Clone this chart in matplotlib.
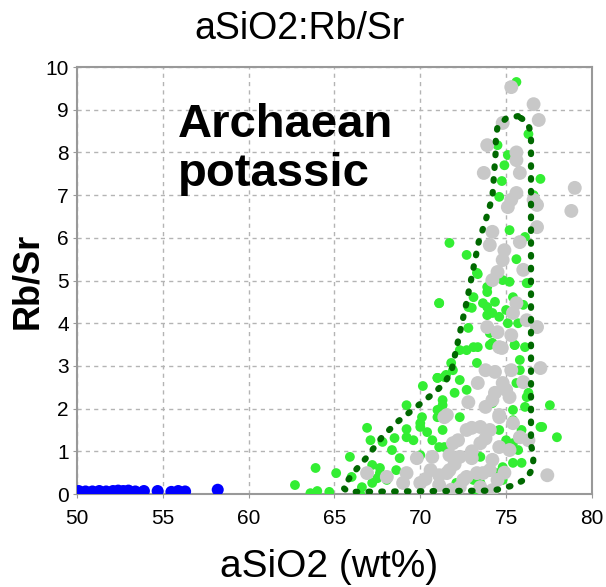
import matplotlib
matplotlib.use("Agg")
import matplotlib.pyplot as plt

# grey samples (SiO2, Rb/Sr)
gray_x = [75.3, 76.6, 76.9, 73.9, 75.6, 75.6, 73.7, 75.8, 79.0, 75.6, 75.3, 78.8, 76.6, 74.8,
          75.1, 76.8, 76.8, 74.2, 75.8, 74.05, 74.9, 74.8, 74.5, 76.0, 74.2, 75.6, 75.4, 73.9,
          76.8, 75.3, 74.5, 76.2, 74.6,
          74.75, 77.0, 75.3, 74.35, 76.0, 73.35, 75.0, 74.35, 72.8, 73.8, 71.55, 74.6, 73.0,
          74.05, 76.3, 72.2, 73.5, 74.6, 71.7, 73.0, 74.2, 77.4, 71.7, 73.65, 72.5, 71.1, 74.5,
          71.4, 72.7, 73.5, 71.9, 70.7, 69.8, 72.3, 70.6, 69.2, 71.55, 68.05, 66.9, 70.0, 69.0,
          71.1, 72.7, 73.3, 74.05, 75.2, 75.8, 75.4, 74.6, 74.2, 75.2, 73.5, 72.3, 74.2,
          73.0, 72.0, 73.8, 74.9, 70.3, 71.8, 73.8, 74.8]
gray_y = [9.53, 9.13, 8.76, 8.17, 8.0, 7.82, 7.52, 7.52, 7.17, 7.05, 6.89, 6.63, 6.89, 8.69,
          6.72, 6.77, 6.25, 6.14, 5.9, 5.83, 5.71, 5.48, 5.2, 5.25, 5.01, 4.47, 4.24, 3.91,
          3.91, 3.72, 3.79, 4.07, 3.44,
          3.42, 2.95, 2.9, 2.86, 2.62, 2.6, 2.44, 2.37, 2.15, 2.04, 1.85, 1.85, 1.55,
          1.5, 1.26, 1.26, 1.19, 1.1, 0.91, 0.84, 0.8, 0.44, 0.56, 0.49, 0.33, 0.44, 0.33,
          1.8, 1.5, 1.57, 1.19, 0.87, 0.84, 0.87, 0.56, 0.49, 0.49, 0.4, 0.49, 0.26, 0.26,
          0.21, 0.4, 0.49, 0.56, 1.03, 1.33, 1.66, 1.8, 2.2, 2.27, 0.16, 0.16, 0.09,
          1.0, 0.7, 1.3, 0.5, 0.35, 0.1, 2.9, 2.6]

# green samples
green_x = [75.6, 76.3, 74.5, 75.1, 74.9, 77.0, 74.75, 74.6, 76.6,
           71.7, 72.7, 75.2, 76.1, 75.6, 73.3, 74.8, 75.2, 76.2, 71.1, 73.1, 73.9, 73.0,
           73.9, 74.35, 73.9, 74.6, 75.1, 75.7, 72.8, 74.05, 73.35, 74.2, 75.5, 76.0,
           71.0, 70.15, 71.5, 71.3, 69.2, 70.1, 71.0, 66.9, 69.2, 70.0, 70.4, 67.1, 67.8,
           68.5, 68.35, 69.6, 70.7, 65.9, 68.8, 67.2, 67.65, 63.9, 65.1, 66.0, 67.5, 68.05,
           62.7, 63.6, 64.0, 64.7, 66.6, 66.5,
           72.3, 73.1, 74.05, 75.5, 71.8, 73.3, 75.8, 71.4, 72.3, 75.6, 76.3, 72.0, 77.55,
           76.1, 71.3, 72.3, 75.4, 77.0, 77.96, 75.9, 71.3, 71.4, 75.0, 75.7, 75.9, 74.8,
           73.1, 72.1, 74.2, 73.2, 74.8,
           71.1, 73.35, 72.8, 72.7, 73.9, 74.2, 71.0, 71.1, 70.0, 73.5, 68.6, 67.65, 68.05,
           67.2, 77.1, 76.3, 75.4, 75.0, 73.65, 71.9, 72.7, 74.2, 75.4, 75.8, 73.5, 74.5,
           75.4, 75.4, 74.6, 76.2, 76.1, 71.0, 70.0, 69.2]
green_y = [9.65, 8.43, 8.17, 7.94, 7.7, 7.38, 7.33, 6.96, 7.0,
           5.88, 5.6, 6.18, 6.02, 5.5, 5.18, 5.01, 4.97, 4.94, 4.47, 4.61, 4.73, 4.36,
           4.38, 4.5, 4.19, 4.15, 4.0, 4.0, 3.89, 3.77, 3.44, 3.54, 3.49, 4.43,
           2.72, 2.53, 2.79, 2.2, 2.08, 1.8, 1.8, 1.55, 1.52, 1.57, 1.45, 1.26, 1.22,
           1.31, 1.03, 1.26, 1.26, 0.87, 0.84, 0.68, 0.61, 0.61, 0.49, 0.4, 0.37, 0.4,
           0.21, 0.02, 0.07, 0.05, 0.16, 0.0,
           3.37, 3.44, 3.49, 3.49, 3.07, 3.07, 3.14, 2.74, 2.67, 2.6, 2.37, 2.37, 2.08,
           2.04, 2.08, 1.8, 1.73, 1.57, 1.33, 1.5, 1.5, 1.1, 1.26, 1.03, 0.73, 0.63,
           0.33, 0.26, 0.05, 0.0, 0.33,
           4.47, 5.15, 4.38, 3.37, 4.85, 4.24, 2.72, 1.1, 0.91, 0.87, 0.56, 0.49, 0.33,
           0.26, 1.57, 4.94, 4.61, 4.31, 4.47, 2.9, 2.44, 2.13, 1.97, 2.9, 0.26, 0.49,
           0.73, 1.19, 1.5, 2.27, 3.44, 1.97, 1.66, 1.33]

# blue samples
blue_x = [50.1, 50.5, 50.9, 51.3, 51.7, 52.1, 52.4, 52.7, 53.0, 53.4, 53.9, 54.7, 55.5, 55.9, 56.3, 58.2]
blue_y = [0.07, 0.06, 0.06, 0.07, 0.06, 0.07, 0.08, 0.07, 0.08, 0.06, 0.07, 0.07, 0.05, 0.07, 0.06, 0.1]

# "Archaean potassic" field outline
field_x = [75.7, 75.0, 74.5, 74.4, 74.4, 74.2, 73.8, 73.4, 73.0, 72.7, 72.4, 72.1, 71.8, 71.4,
           70.9, 69.8, 68.7, 67.8, 66.9, 66.0, 65.5, 65.8, 74.2, 74.9, 75.6, 76.2, 76.55, 76.6,
           76.45, 76.45, 76.45, 76.25, 75.7]
field_y = [8.85, 8.8, 8.6, 8.35, 8.05, 6.95, 6.4, 5.9, 5.1, 4.5, 3.95, 3.4, 2.85, 2.6,
           2.4, 2.05, 1.7, 1.35, 0.87, 0.45, 0.15, 0.05, 0.08, 0.14, 0.23, 0.37, 0.6, 0.9,
           1.15, 5.0, 8.45, 8.7, 8.85]

plt.rcParams['font.family'] = ['Liberation Sans', 'DejaVu Sans']

fig = plt.figure(figsize=(6.06, 5.87), dpi=100)
ax = fig.add_axes([0.127, 0.1584, 0.8498, 0.7274])

ax.scatter(blue_x, blue_y, s=75, color='#0000ff', edgecolors='none', zorder=3)
ax.scatter(green_x, green_y, s=50, color='#33ee33', edgecolors='none', zorder=3)
ax.scatter(gray_x, gray_y, s=100, color='#c8c8c8', edgecolors='none', zorder=4)
ax.plot(field_x, field_y, color='#006800', lw=4.5, linestyle=(0, (0.25, 1.8)),
        dash_capstyle='round', zorder=5)

ax.set_xlim(50, 80)
ax.set_ylim(0, 10)
ax.set_xticks(range(50, 81, 5))
ax.set_yticks(range(0, 11))
ax.grid(True, color='#b4b4b4', linestyle=(0, (3, 3)), lw=1)
ax.set_axisbelow(True)
for sp in ax.spines.values():
    sp.set_color('#999999')
    sp.set_linewidth(1.5)
ax.tick_params(colors='#999999', length=3, labelcolor='black', labelsize=15)
ax.tick_params(axis='x', pad=8)
ax.tick_params(axis='y', pad=3)

t = ax.set_title('aSiO2:Rb/Sr', fontsize=27, pad=20)
t.set_x(0.433)
ax.set_xlabel('aSiO2 (wt%)', fontsize=28)
ax.set_ylabel('Rb/Sr', fontsize=26, fontweight='bold')
ax.xaxis.set_label_coords(0.49, -0.172)
ax.yaxis.set_label_coords(-0.095, 0.5)
ax.xaxis.label.set_va('center')
ax.yaxis.label.set_va('center')

ax.text(55.9, 8.36, 'Archaean', fontsize=34, fontweight='bold', va='baseline', zorder=6)
ax.text(55.9, 7.22, 'potassic', fontsize=34, fontweight='bold', va='baseline', zorder=6)

fig.savefig('out.png', dpi=100)
